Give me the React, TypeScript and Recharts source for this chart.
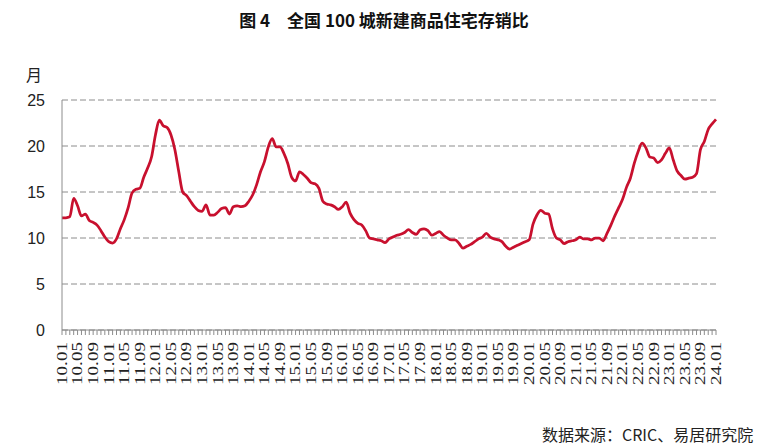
import { CartesianGrid, Line, LineChart, XAxis, YAxis } from 'recharts'

const TITLE = '图 4　全国 100 城新建商品住宅存销比'
const SOURCE = '数据来源：CRIC、易居研究院'
const UNIT = '月'

const YEARS = [2010, 2011, 2012, 2013, 2014, 2015, 2016, 2017, 2018, 2019, 2020, 2021, 2022, 2023, 2024]
const MONTHS = ['01', '02', '03', '04', '05', '06', '07', '08', '09', '10', '11', '12']

// stock-to-sales ratio, months
const v2010 = [12.2, 12.2, 12.3, 14.3, 13.5, 12.4, 12.6, 11.9, 11.7, 11.4, 10.8, 10.1]
const v2011 = [9.6, 9.45, 9.9, 11.0, 12.0, 13.3, 14.9, 15.3, 15.4, 16.6, 17.6, 18.8]
const v2012 = [21.2, 22.8, 22.2, 22.0, 21.2, 19.6, 17.2, 15.0, 14.6, 14.0, 13.4, 13.0]
const v2013 = [12.9, 13.6, 12.5, 12.5, 12.8, 13.2, 13.3, 12.6, 13.4, 13.5, 13.4, 13.5]
const v2014 = [14.0, 14.7, 15.8, 17.2, 18.3, 19.9, 20.8, 19.9, 19.9, 19.2, 18.1, 16.6]
const v2015 = [16.2, 17.2, 16.9, 16.5, 16.0, 15.9, 15.4, 14.0, 13.7, 13.6, 13.4, 13.1]
const v2016 = [13.4, 13.9, 12.7, 12.0, 11.6, 11.4, 10.8, 10.0, 9.9, 9.8, 9.7, 9.5]
const v2017 = [9.9, 10.1, 10.3, 10.4, 10.6, 10.9, 10.6, 10.4, 10.9, 11.0, 10.8, 10.3]
const v2018 = [10.5, 10.7, 10.3, 10.0, 9.8, 9.8, 9.4, 8.9, 9.1, 9.3, 9.6, 9.9]
const v2019 = [10.1, 10.5, 10.1, 9.9, 9.8, 9.6, 9.1, 8.8, 9.0, 9.2, 9.4, 9.6]
const v2020 = [9.8, 11.5, 12.5, 13.0, 12.7, 12.6, 11.0, 10.0, 9.8, 9.4, 9.6, 9.7]
const v2021 = [9.8, 10.1, 9.9, 9.9, 9.8, 10.0, 10.0, 9.7, 10.5, 11.4, 12.4, 13.3]
const v2022 = [14.2, 15.5, 16.5, 18.1, 19.4, 20.3, 19.8, 18.8, 18.7, 18.2, 18.5, 19.2]
const v2023 = [19.8, 18.5, 17.3, 16.8, 16.4, 16.5, 16.6, 17.0, 19.6, 20.5, 21.8, 22.4]
const v2024 = [22.9]

const VALUES = [
  ...v2010, ...v2011, ...v2012, ...v2013, ...v2014, ...v2015, ...v2016, ...v2017,
  ...v2018, ...v2019, ...v2020, ...v2021, ...v2022, ...v2023, ...v2024,
]

const CATEGORIES = YEARS.flatMap((y) => MONTHS.map((m) => `${String(y).slice(2)}.${m}`)).slice(0, VALUES.length)

const data = CATEGORIES.map((label, i) => ({ label, ratio: VALUES[i] }))

const Y_TICKS = [0, 5, 10, 15, 20, 25]
const AXIS_GREY = '#8c8c8c'
const LINE_RED = '#c8102e'

function MonthTick(props: any) {
  const { x, y, payload, index } = props
  if (index % 4 !== 0) return <g />
  return (
    <text
      transform={`translate(${x},${y}) rotate(-90)`}
      textAnchor="end"
      dy="0.35em"
      fontSize={14}
      fontFamily="'Liberation Serif', 'DejaVu Serif', serif"
      fill="#222"
      textLength={43}
      lengthAdjust="spacingAndGlyphs"
    >
      {payload.value}
    </text>
  )
}

function App() {
  return (
    <div style={{ position: 'absolute', left: 0, top: 0, width: 768, height: 446, background: '#fff' }}>
      <div
        style={{
          position: 'absolute',
          top: 7,
          left: 0,
          width: 768,
          textAlign: 'center',
          fontFamily: "'Noto Sans CJK SC', sans-serif",
          fontWeight: 'bold',
          fontSize: 17,
          color: '#111',
        }}
      >
        {TITLE}
      </div>
      <div
        style={{
          position: 'absolute',
          top: 62,
          left: 26,
          fontFamily: "'Noto Sans CJK SC', sans-serif",
          fontSize: 16,
          color: '#222',
        }}
      >
        {UNIT}
      </div>
      <LineChart width={768} height={446} data={data} margin={{ top: 100, right: 52, left: 22, bottom: 0 }}>
        <CartesianGrid vertical={false} stroke={AXIS_GREY} strokeDasharray="6 3" />
        <XAxis
          dataKey="label"
          interval={0}
          height={116}
          tick={<MonthTick />}
          tickSize={5}
          tickMargin={7}
          stroke={AXIS_GREY}
          tickLine={{ stroke: AXIS_GREY }}
        />
        <YAxis
          width={40}
          domain={[0, 25]}
          ticks={Y_TICKS}
          tickLine={false}
          tickSize={0}
          tickMargin={17}
          stroke={AXIS_GREY}
          tick={{ fontSize: 16, fill: '#222', fontFamily: "'Liberation Sans', Arial, sans-serif" }}
        />
        <Line
          type="monotone"
          dataKey="ratio"
          stroke={LINE_RED}
          strokeWidth={2.75}
          dot={false}
          isAnimationActive={false}
        />
      </LineChart>
      <div
        style={{
          position: 'absolute',
          top: 422,
          left: 542,
          fontFamily: "'Noto Sans CJK SC', sans-serif",
          fontSize: 16,
          color: '#222',
          whiteSpace: 'nowrap',
        }}
      >
        {SOURCE}
      </div>
    </div>
  )
}

export default App
